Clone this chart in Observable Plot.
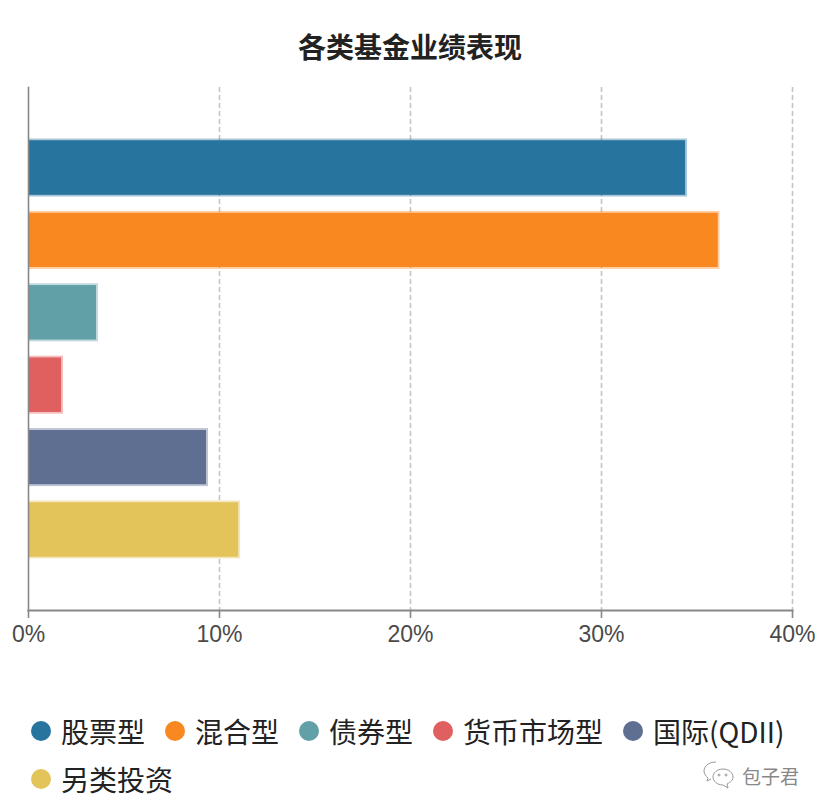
<!DOCTYPE html>
<html>
<head>
<meta charset="utf-8">
<script src="https://cdn.jsdelivr.net/npm/d3@7"></script>
<script src="https://cdn.jsdelivr.net/npm/@observablehq/plot@0.6"></script>
<style>
html,body{margin:0;padding:0;background:#fff;}
#page{position:relative;width:826px;height:812px;overflow:hidden;font-family:"Noto Sans CJK SC",sans-serif;}
#title{height:70px;line-height:92px;box-sizing:border-box;text-align:center;font-size:28px;font-weight:700;color:#222;padding-right:6px;}
#chart svg{display:block;}
#legend{position:absolute;left:31px;top:707px;width:780px;display:flex;flex-wrap:wrap;column-gap:20px;}
.item{display:flex;align-items:center;height:48px;font-size:28px;color:#222;white-space:nowrap;}
.dot{width:20px;height:20px;border-radius:50%;margin-right:10px;flex:none;}
#mark{position:absolute;left:703px;top:760px;display:flex;align-items:center;color:#888;font-size:19px;}
</style>
</head>
<body>
<div id="page">
<div id="title"></div>
<div id="chart"></div>
<div id="legend"></div>
<div id="mark">
<svg width="36" height="30" viewBox="0 0 36 30" fill="none" stroke="#999" stroke-width="1">
<path d="M13 2C6 2 1 6 1 11c0 3 2 5 4 7l-1 3 4-2"/>
<path d="M20 9c-6 0-10 4-10 8s4 8 10 8l5 3-1-4c4-2 6-4 6-7 0-4-4-8-10-8z"/>
<circle cx="16" cy="15" r="1"/><circle cx="23" cy="15" r="1"/>
</svg>
<span id="markText" style="margin-left:3px"></span>
</div>
</div>
<script>
const titleText = "各类基金业绩表现";
const categories = ["股票型", "混合型", "债券型", "货币市场型", "国际(QDII)", "另类投资"];
const values = [34.4, 36.1, 3.56, 1.73, 9.32, 11.0];
const colors = ["#27749f", "#f98820", "#62a0a8", "#e06060", "#5f6f91", "#e3c45a"];
const xTicks = [0, 10, 20, 30, 40];
const watermark = "包子君";

const rows = categories.map((name, i) => ({name, value: values[i]}));

document.getElementById("title").textContent = titleText;
document.getElementById("markText").textContent = watermark;

const plot = Plot.plot({
  width: 826,
  height: 640,
  marginTop: 17,
  marginBottom: 100,
  marginLeft: 28,
  marginRight: 34,
  style: {background: "#fff", fontFamily: "'Liberation Sans', sans-serif"},
  x: {domain: [0, 40]},
  y: {domain: categories, axis: null, round: false, paddingInner: 0.253, paddingOuter: 0.739},
  color: {domain: categories, range: colors},
  marks: [
    Plot.gridX(xTicks.slice(1), {stroke: "#c4c4c4", strokeOpacity: 1, strokeWidth: 1.6, strokeDasharray: "5,3"}),
    Plot.barX(rows, {
      x: "value", y: "name", fill: "name", stroke: "name", clip: true,
      strokeWidth: 4, strokeOpacity: 0.4, paintOrder: "stroke"
    }),
    Plot.barX(rows, {x: "value", y: "name", fill: "name"}),
    Plot.frame({anchor: "left", stroke: "#888", strokeWidth: 1.6}),
    Plot.frame({anchor: "bottom", stroke: "#888", strokeWidth: 2}),
    Plot.axisX(xTicks, {
      anchor: "bottom", label: null, tickSize: 8, tickPadding: 7,
      tickFormat: d => d + "%", fontSize: 23, stroke: "#888", strokeWidth: 1.6,
      color: "#555", fill: "#4a4a4a", textStroke: "none"
    })
  ]
});
document.getElementById("chart").appendChild(plot);

const legend = document.getElementById("legend");
categories.forEach((c, i) => {
  const item = document.createElement("div");
  item.className = "item";
  const dot = document.createElement("span");
  dot.className = "dot";
  dot.style.background = colors[i];
  const label = document.createElement("span");
  label.textContent = c;
  item.append(dot, label);
  legend.appendChild(item);
});
</script>
</body>
</html>
